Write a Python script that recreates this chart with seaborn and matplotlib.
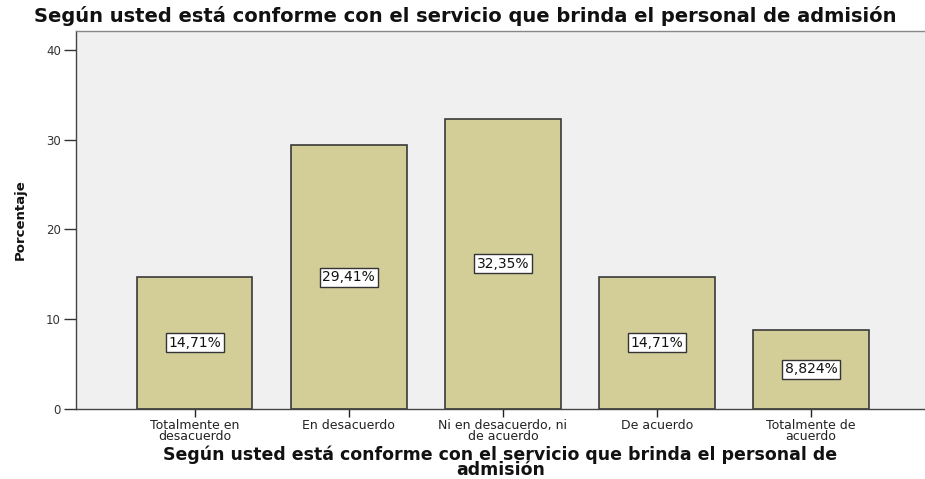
import matplotlib
matplotlib.use("Agg")
import matplotlib.pyplot as plt
import seaborn as sns
import pandas as pd

categories = [
    "Totalmente en\ndesacuerdo",
    "En desacuerdo",
    "Ni en desacuerdo, ni\nde acuerdo",
    "De acuerdo",
    "Totalmente de\nacuerdo",
]
percentages = [14.71, 29.41, 32.35, 14.71, 8.824]
value_labels = ["14,71%", "29,41%", "32,35%", "14,71%", "8,824%"]
y_ticks = [0, 10, 20, 30, 40]

title = "Según usted está conforme con el servicio que brinda el personal de admisión"
x_title = "Según usted está conforme con el servicio que brinda el personal de\nadmisión"
y_title = "Porcentaje"

sns.set_theme(style="white")
plt.rcParams["font.family"] = ["DejaVu Sans"]

df = pd.DataFrame({"categoria": categories, "porcentaje": percentages})

fig = plt.figure(figsize=(9.25, 4.79), dpi=100)
ax = fig.add_axes([0.0822, 0.1461, 0.9178, 0.789])
ax.set_facecolor("#F0F0F0")

sns.barplot(data=df, x="categoria", y="porcentaje", color="#D3CE98",
            edgecolor="#3A3A3A", linewidth=1.2, width=0.75, saturation=1,
            ax=ax)

bars = ax.containers[0]
ax.bar_label(bars, labels=value_labels, label_type="center", fontsize=10,
             color="#111111",
             bbox=dict(boxstyle="square,pad=0.18", facecolor="white",
                       edgecolor="#333333", linewidth=1.0))

ax.set_ylim(0, 42.1)
ax.set_xlim(-0.77, 4.74)
ax.set_yticks(y_ticks)
ax.tick_params(axis="y", labelsize=8.5, colors="#333333", length=9, width=1,
               direction="out", left=True, pad=2)
ax.tick_params(axis="x", labelsize=9, colors="#222222", length=6, width=1,
               direction="out", bottom=True, pad=1)
for lbl in ax.get_xticklabels():
    lbl.set_linespacing(0.8)

for side in ["left", "bottom", "top"]:
    ax.spines[side].set_visible(True)
    ax.spines[side].set_color("#444444")
    ax.spines[side].set_linewidth(1.0)
ax.spines["top"].set_color("#888888")
ax.spines["right"].set_visible(False)

ax.set_xlabel(x_title, fontsize=12.5, fontweight="bold", color="#111111",
              labelpad=2, linespacing=0.78)
ax.set_ylabel(y_title, fontsize=9.5, fontweight="bold", color="#111111",
              labelpad=14)

fig.suptitle(title, x=0.503, y=0.988, fontsize=14, fontweight="bold",
             color="#111111")

fig.savefig("out.png", dpi=100, facecolor="white")
